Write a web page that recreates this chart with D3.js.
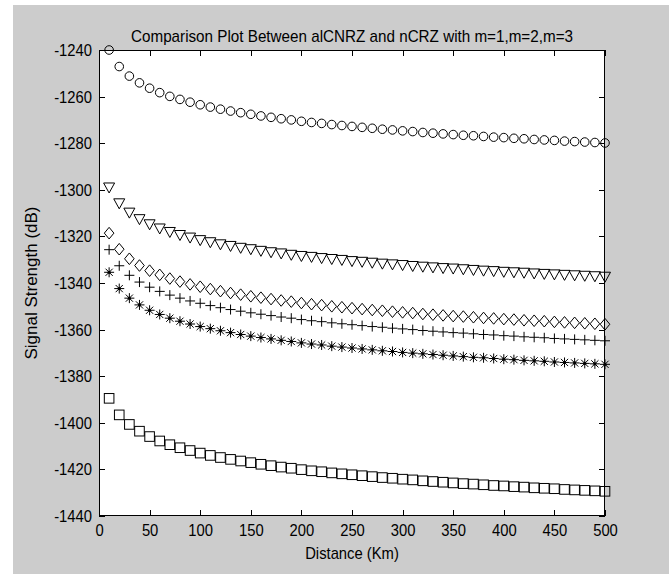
<!DOCTYPE html>
<html>
<head>
<meta charset="utf-8">
<script src="https://cdn.jsdelivr.net/npm/d3@7"></script>
<style>
  html, body { margin: 0; padding: 0; background: #ffffff; }
  svg { display: block; }
  text { font-family: "Liberation Sans", Arial, Helvetica, sans-serif; fill: #000; }
</style>
</head>
<body>
<svg id="chart" width="669" height="574"></svg>
<script>
const titleText = "Comparison Plot Between alCNRZ and nCRZ with m=1,m=2,m=3";
const xLabelText = "Distance (Km)";
const yLabelText = "Signal Strength (dB)";

const xTicks = [0, 50, 100, 150, 200, 250, 300, 350, 400, 450, 500];
const xTickLabels = ["0", "50", "100", "150", "200", "250", "300", "350", "400", "450", "500"];
const yTicks = [-1440, -1420, -1400, -1380, -1360, -1340, -1320, -1300, -1280, -1260, -1240];
const yTickLabels = ["-1440", "-1420", "-1400", "-1380", "-1360", "-1340", "-1320", "-1300", "-1280", "-1260", "-1240"];

const distance = [10, 20, 30, 40, 50, 60, 70, 80, 90, 100,
  110, 120, 130, 140, 150, 160, 170, 180, 190, 200,
  210, 220, 230, 240, 250, 260, 270, 280, 290, 300,
  310, 320, 330, 340, 350, 360, 370, 380, 390, 400,
  410, 420, 430, 440, 450, 460, 470, 480, 490, 500];

const circleSeries = [-1240.0, -1247.1, -1251.2, -1254.1, -1256.4, -1258.3, -1259.9, -1261.2, -1262.4, -1263.5,
  -1264.5, -1265.4, -1266.2, -1266.9, -1267.6, -1268.3, -1268.9, -1269.5, -1270.0, -1270.6,
  -1271.1, -1271.5, -1272.0, -1272.4, -1272.8, -1273.2, -1273.6, -1274.0, -1274.3, -1274.7,
  -1275.0, -1275.4, -1275.7, -1276.0, -1276.3, -1276.6, -1276.8, -1277.1, -1277.4, -1277.6,
  -1277.9, -1278.1, -1278.4, -1278.6, -1278.8, -1279.1, -1279.3, -1279.5, -1279.7, -1279.9];

const triangleSeries = [-1299.0, -1305.8, -1309.8, -1312.6, -1314.8, -1316.6, -1318.1, -1319.4, -1320.5, -1321.6,
  -1322.5, -1323.4, -1324.1, -1324.9, -1325.5, -1326.2, -1326.8, -1327.3, -1327.9, -1328.4,
  -1328.8, -1329.3, -1329.7, -1330.1, -1330.6, -1330.9, -1331.3, -1331.7, -1332.0, -1332.3,
  -1332.7, -1333.0, -1333.3, -1333.6, -1333.8, -1334.1, -1334.4, -1334.7, -1334.9, -1335.2,
  -1335.4, -1335.6, -1335.9, -1336.1, -1336.3, -1336.5, -1336.7, -1336.9, -1337.1, -1337.3];

const diamondSeries = [-1318.6, -1325.5, -1329.6, -1332.5, -1334.7, -1336.5, -1338.1, -1339.4, -1340.6, -1341.6,
  -1342.6, -1343.5, -1344.3, -1345.0, -1345.7, -1346.3, -1346.9, -1347.5, -1348.0, -1348.6,
  -1349.1, -1349.5, -1350.0, -1350.4, -1350.8, -1351.2, -1351.6, -1351.9, -1352.3, -1352.6,
  -1352.9, -1353.3, -1353.6, -1353.9, -1354.2, -1354.4, -1354.7, -1355.0, -1355.2, -1355.5,
  -1355.7, -1356.0, -1356.2, -1356.4, -1356.7, -1356.9, -1357.1, -1357.3, -1357.5, -1357.7];

const plusSeries = [-1325.7, -1332.6, -1336.7, -1339.6, -1341.8, -1343.6, -1345.2, -1346.5, -1347.7, -1348.7,
  -1349.7, -1350.6, -1351.4, -1352.1, -1352.8, -1353.4, -1354.0, -1354.6, -1355.1, -1355.7,
  -1356.2, -1356.6, -1357.1, -1357.5, -1357.9, -1358.3, -1358.7, -1359.0, -1359.4, -1359.7,
  -1360.0, -1360.4, -1360.7, -1361.0, -1361.3, -1361.5, -1361.8, -1362.1, -1362.3, -1362.6,
  -1362.8, -1363.1, -1363.3, -1363.5, -1363.8, -1364.0, -1364.2, -1364.4, -1364.6, -1364.8];

const starSeries = [-1335.4, -1342.4, -1346.5, -1349.4, -1351.7, -1353.5, -1355.1, -1356.4, -1357.6, -1358.7,
  -1359.6, -1360.5, -1361.3, -1362.1, -1362.8, -1363.4, -1364.0, -1364.6, -1365.1, -1365.7,
  -1366.2, -1366.6, -1367.1, -1367.5, -1367.9, -1368.3, -1368.7, -1369.1, -1369.4, -1369.8,
  -1370.1, -1370.4, -1370.7, -1371.0, -1371.3, -1371.6, -1371.9, -1372.1, -1372.4, -1372.7,
  -1372.9, -1373.2, -1373.4, -1373.6, -1373.9, -1374.1, -1374.3, -1374.5, -1374.7, -1374.9];

const squareSeries = [-1389.5, -1396.6, -1400.7, -1403.6, -1405.9, -1407.8, -1409.4, -1410.7, -1411.9, -1413.0,
  -1414.0, -1414.9, -1415.7, -1416.4, -1417.1, -1417.8, -1418.4, -1419.0, -1419.5, -1420.1,
  -1420.6, -1421.0, -1421.5, -1421.9, -1422.3, -1422.7, -1423.1, -1423.5, -1423.8, -1424.2,
  -1424.5, -1424.9, -1425.2, -1425.5, -1425.8, -1426.1, -1426.3, -1426.6, -1426.9, -1427.1,
  -1427.4, -1427.6, -1427.9, -1428.1, -1428.3, -1428.6, -1428.8, -1429.0, -1429.2, -1429.4];

// ---------- layout ----------
const W = 669, H = 574;
const plot = { left: 99, right: 605, top: 50, bottom: 516 };
const fontSize = 17;
const sx = 0.87;       // horizontal squeeze to mimic MATLAB's narrow screen font
const tickLen = 6;

const svg = d3.select("#chart");

// figure background (MATLAB gray)
svg.append("rect").attr("x", 13).attr("y", 5).attr("width", W - 13).attr("height", H - 5).attr("fill", "#cccccc");

const x = d3.scaleLinear().domain([0, 500]).range([plot.left, plot.right]);
const y = d3.scaleLinear().domain([-1440, -1240]).range([plot.bottom, plot.top]);

// axes background
svg.append("rect")
  .attr("x", plot.left).attr("y", plot.top)
  .attr("width", plot.right - plot.left).attr("height", plot.bottom - plot.top)
  .attr("fill", "#ffffff");

function styleAxis(g) {
  g.select(".domain").remove();
  g.selectAll(".tick line").attr("stroke", "#000").attr("stroke-width", 1).attr("shape-rendering", "crispEdges");
  g.selectAll(".tick text").attr("font-size", fontSize).attr("font-family", null).attr("fill", "#000")
    .attr("x", function () { return (+d3.select(this).attr("x") || 0) / sx; })
    .attr("transform", `scale(${sx},1)`);
}

svg.append("g").attr("transform", `translate(0,${plot.bottom})`)
  .call(d3.axisBottom(x).tickValues(xTicks).tickSize(-tickLen).tickPadding(8)
    .tickFormat((d, i) => xTickLabels[i]))
  .call(styleAxis);

svg.append("g").attr("transform", `translate(0,${plot.top})`)
  .call(d3.axisTop(x).tickValues(xTicks).tickSize(-tickLen).tickFormat(""))
  .call(styleAxis);

svg.append("g").attr("transform", `translate(${plot.left},0)`)
  .call(d3.axisLeft(y).tickValues(yTicks).tickSize(-tickLen).tickPadding(7)
    .tickFormat((d, i) => yTickLabels[i]))
  .call(styleAxis);

svg.append("g").attr("transform", `translate(${plot.right},0)`)
  .call(d3.axisRight(y).tickValues(yTicks).tickSize(-tickLen).tickFormat(""))
  .call(styleAxis);

// box
svg.append("rect")
  .attr("x", plot.left + 0.5).attr("y", plot.top + 0.5)
  .attr("width", plot.right - plot.left - 1).attr("height", plot.bottom - plot.top - 1)
  .attr("fill", "none").attr("stroke", "#000").attr("stroke-width", 1);

// titles
const cx = (plot.left + plot.right) / 2;
svg.append("text")
  .attr("x", cx).attr("y", 42)
  .attr("text-anchor", "middle").attr("font-size", fontSize)
  .attr("textLength", 442).attr("lengthAdjust", "spacingAndGlyphs")
  .text(titleText);

svg.append("text")
  .attr("transform", `translate(${cx},559) scale(${sx},1)`)
  .attr("text-anchor", "middle").attr("font-size", fontSize)
  .text(xLabelText);

svg.append("text")
  .attr("transform", `translate(37,${(plot.top + plot.bottom) / 2}) rotate(-90)`)
  .attr("text-anchor", "middle").attr("font-size", fontSize)
  .text(yLabelText);

// ---------- markers ----------
const marks = svg.append("g").attr("fill", "none").attr("stroke", "#000").attr("stroke-width", 1);

function pts(series) { return distance.map((d, i) => ({ d, v: series[i] })); }

// circles
marks.append("g").selectAll("circle").data(pts(circleSeries)).join("circle")
  .attr("cx", p => x(p.d)).attr("cy", p => y(p.v)).attr("r", 4.3);

// triangle down
marks.append("g").selectAll("path").data(pts(triangleSeries)).join("path")
  .attr("d", p => {
    const px = x(p.d), py = y(p.v);
    return `M${px - 5.5},${py - 4.5}L${px + 5.5},${py - 4.5}L${px},${py + 5.5}Z`;
  });

// diamonds
marks.append("g").selectAll("path").data(pts(diamondSeries)).join("path")
  .attr("d", p => {
    const px = x(p.d), py = y(p.v);
    return `M${px},${py - 5.8}L${px + 4.8},${py}L${px},${py + 5.8}L${px - 4.8},${py}Z`;
  });

// plus
marks.append("g").selectAll("path").data(pts(plusSeries)).join("path")
  .attr("d", p => {
    const px = x(p.d), py = y(p.v);
    return `M${px - 5},${py}L${px + 5},${py}M${px},${py - 5}L${px},${py + 5}`;
  });

// asterisk
const starG = marks.append("g");
starG.selectAll("path").data(pts(starSeries)).join("path")
  .attr("d", p => {
    const px = x(p.d), py = y(p.v), a = 3.6;
    return `M${px - 5},${py}L${px + 5},${py}M${px},${py - 5}L${px},${py + 5}` +
      `M${px - a},${py - a}L${px + a},${py + a}M${px - a},${py + a}L${px + a},${py - a}`;
  });
starG.selectAll("circle").data(pts(starSeries)).join("circle")
  .attr("cx", p => x(p.d)).attr("cy", p => y(p.v)).attr("r", 1.6)
  .attr("fill", "#000").attr("stroke", "none");

// squares
marks.append("g").selectAll("rect").data(pts(squareSeries)).join("rect")
  .attr("x", p => x(p.d) - 4.8).attr("y", p => y(p.v) - 4.8)
  .attr("width", 9.6).attr("height", 9.6);
</script>
</body>
</html>
